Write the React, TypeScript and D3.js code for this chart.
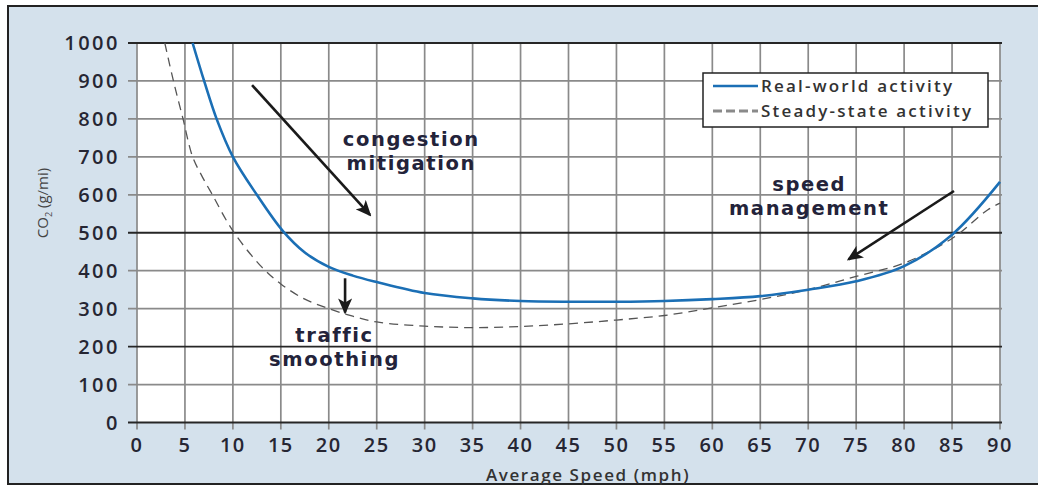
import React from 'react';
import * as d3 from 'd3';

// speed (mph) vs CO2 (g/mi)
const realSpeed = [5.8, 7, 8.3, 10, 12.5, 15.2, 17.5, 20, 22.5, 25, 30, 35, 40, 45, 50, 55, 60, 65, 70, 75, 80, 85, 90];
const realCO2 = [1000, 900, 800, 700, 600, 505, 448, 410, 387, 370, 341, 327, 320, 318, 318, 320, 325, 333, 350, 372, 412, 495, 634];

const steadySpeed = [2.9, 3.8, 4.8, 5.8, 6.8, 7.8, 10, 13, 15, 17.5, 20, 22.5, 25, 30, 35, 40, 45, 50, 55, 60, 65, 70, 75, 80, 85, 88.7, 90];
const steadyCO2 = [1000, 900, 800, 700, 648, 603, 505, 410, 365, 325, 300, 280, 265, 254, 250, 253, 260, 270, 282, 302, 324, 350, 385, 420, 485, 560, 578];

const xTicks = d3.range(0, 91, 5);
const yTicks = d3.range(0, 1001, 100);
const darkY = [0, 200, 500, 1000];

const legendLabels = ['Real-world activity', 'Steady-state activity'];

// annotation arrows: [x0, y0, x1, y1] in data units
const arrows = [
  [12.0, 889, 24.3, 547],
  [21.7, 380, 21.7, 290],
  [85.2, 610, 74.2, 430],
];

const notes = [
  { lines: ['congestion', 'mitigation'], x: 28.6, y: 728 },
  { lines: ['traffic', 'smoothing'], x: 20.6, y: 213 },
  { lines: ['speed', 'management'], x: 70.1, y: 610 },
];

const W = 1038;
const H = 487;
const plot = { left: 137, right: 1000, top: 43, bottom: 422.5 };

export default function App() {
  const x = d3.scaleLinear().domain([0, 90]).range([plot.left, plot.right]);
  const y = d3.scaleLinear().domain([0, 1000]).range([plot.bottom, plot.top]);

  const line = d3.line<[number, number]>()
    .x(d => x(d[0]))
    .y(d => y(d[1]))
    .curve(d3.curveCatmullRom.alpha(0.5));

  const real = realSpeed.map((s, i) => [s, realCO2[i]] as [number, number]);
  const steady = steadySpeed.map((s, i) => [s, steadyCO2[i]] as [number, number]);

  const font = "'Open Sans', 'DejaVu Sans', sans-serif";
  const noteFont = "'DejaVu Sans', sans-serif";
  const textColor = '#262633';

  return (
    <div style={{ position: 'absolute', left: 0, top: 0 }}>
      <svg width={W} height={H} style={{ display: 'block', fontFamily: font }}>
        <defs>
          <marker id="arrowhead" viewBox="0 0 16 14" refX="14" refY="7" markerWidth="16" markerHeight="14"
            orient="auto" markerUnits="userSpaceOnUse">
            <path d="M0,0 L16,7 L0,14 L4,7 Z" fill="#1a1a1a" />
          </marker>
          <clipPath id="plotclip">
            <rect x={plot.left} y={plot.top - 2} width={plot.right - plot.left + 2} height={plot.bottom - plot.top + 2} />
          </clipPath>
        </defs>

        <rect x={0} y={0} width={W} height={H} fill="#ffffff" />
        <rect x={8} y={6} width={W + 20} height={478} fill="#d4e1ec" stroke="#222" strokeWidth={2} />
        <rect x={plot.left} y={plot.top} width={plot.right - plot.left} height={plot.bottom - plot.top} fill="#ffffff" />

        {/* vertical grid + x ticks */}
        {xTicks.map(t => (
          <g key={'x' + t}>
            <line x1={x(t)} x2={x(t)} y1={plot.top} y2={plot.bottom + 7} stroke="#8a8a8a" strokeWidth={1.7} />
            <text x={x(t)} y={452} textAnchor="middle" fontSize={20} fontWeight={600} letterSpacing={1.5} fill={textColor}>{t}</text>
          </g>
        ))}

        {/* horizontal grid + y ticks */}
        {yTicks.map(t => {
          const dark = darkY.includes(t);
          return (
            <g key={'y' + t}>
              <line x1={plot.left - 9} x2={plot.right + 2} y1={y(t)} y2={y(t)} stroke={dark ? '#262626' : '#8a8a8a'} strokeWidth={dark ? 1.8 : 1.7} />
              <text x={120} y={y(t)} dy="0.36em" textAnchor="end" fontSize={20} fontWeight={600} letterSpacing={2.5} fill={textColor}>{t}</text>
            </g>
          );
        })}

        {/* axis titles */}
        <text x={588} y={481} textAnchor="middle" fontSize={17} fontWeight={600} letterSpacing={1.6} fill="#333">Average Speed (mph)</text>
        <text transform={`translate(48,${203}) rotate(-90)`} textAnchor="middle" fontSize={15} fill="#444">
          CO<tspan fontSize={9} dy={4}>2</tspan><tspan dy={-4}> (g/mi)</tspan>
        </text>

        {/* curves */}
        <g clipPath="url(#plotclip)">
          <path d={line(steady) ?? ''} fill="none" stroke="#555" strokeWidth={1.3} strokeDasharray="9,6" />
          <path d={line(real) ?? ''} fill="none" stroke="#1b6fb5" strokeWidth={2.6} />
        </g>

        {/* annotation arrows */}
        {arrows.map((a, i) => (
          <line key={'a' + i} x1={x(a[0])} y1={y(a[1])} x2={x(a[2])} y2={y(a[3])} stroke="#1a1a1a" strokeWidth={2.6} markerEnd="url(#arrowhead)" />
        ))}

        {/* annotation text */}
        {notes.map((n, i) => (
          <g key={'n' + i}>
            {n.lines.map((l, j) => (
              <text key={j} x={x(n.x)} y={y(n.y) + j * 24} textAnchor="middle" fontFamily={noteFont} fontSize={19.5} fontWeight={700} letterSpacing={1.6} fill="#23233a">{l}</text>
            ))}
          </g>
        ))}

        {/* legend */}
        <g>
          <rect x={703} y={73} width={285} height={54} fill="#ffffff" stroke="#222" strokeWidth={1.5} />
          <line x1={713} x2={758} y1={86} y2={86} stroke="#1b6fb5" strokeWidth={2.6} />
          <line x1={713} x2={758} y1={111} y2={111} stroke="#8a8a8a" strokeWidth={3} strokeDasharray="9,4" />
          {legendLabels.map((l, i) => (
            <text key={l} x={761} y={92 + i * 25} fontSize={17} fontWeight={600} letterSpacing={2.2} fill="#333">{l}</text>
          ))}
        </g>
      </svg>
    </div>
  );
}
